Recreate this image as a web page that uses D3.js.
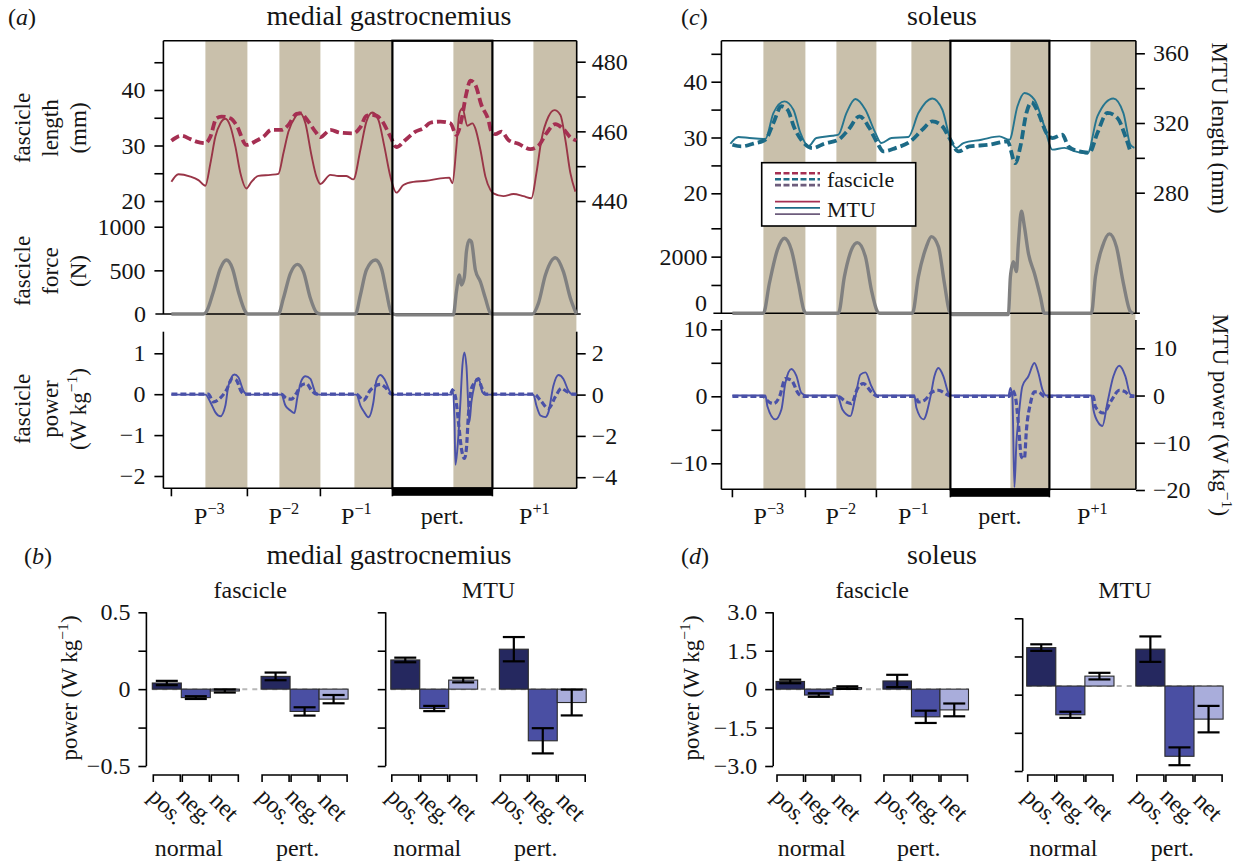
<!DOCTYPE html>
<html>
<head>
<meta charset="utf-8">
<script src="https://cdnjs.cloudflare.com/ajax/libs/d3/7.8.5/d3.min.js"></script>
<style>
body { margin: 0; background: #fff; }
text { font-family: "Liberation Serif", "Times New Roman", serif; fill: #151515; }
</style>
</head>
<body>
<script>
// ---- stride timing (s) ----
var mgStrides = [0.08, 0.84, 1.57, 2.29, 3.29, 4.13];
var mgStance = [0.42, 1.16, 1.91, 2.90, 3.70];
var solStrides = [0.11, 0.84, 1.55, 2.29, 3.28, 4.14];
var solStance = [0.42, 1.15, 1.90, 2.89, 3.69];
var strideLabels = [["P", "−3"], ["P", "−2"], ["P", "−1"], ["pert.", ""], ["P", "+1"]];

// ---- medial gastrocnemius traces [time s, value] ----
var mgFasLen = [[0.08,30.85],[0.18,31.75],[0.27,31.15],[0.33,30.7],[0.42,30.4],[0.47,31.6],[0.53,34.9],[0.58,35.2],[0.67,34.9],[0.73,33.7],[0.83,30.1],[0.93,30.85],[1.0,31.6],[1.08,32.8],[1.18,32.8],[1.25,33.7],[1.33,35.7],[1.37,35.8],[1.45,34.3],[1.52,32.5],[1.57,31.5],[1.67,32.8],[1.77,32.3],[1.9,32.2],[1.97,33.3],[2.03,35.35],[2.1,35.5],[2.18,34.6],[2.27,31.6],[2.33,29.7],[2.42,31.0],[2.52,32.5],[2.6,33.1],[2.67,34.1],[2.77,34.3],[2.87,34.0],[2.93,31.9],[2.98,34.6],[3.03,39.4],[3.07,41.7],[3.12,40.9],[3.18,37.3],[3.25,34.6],[3.28,32.5],[3.32,32.05],[3.38,32.5],[3.45,31.0],[3.55,30.3],[3.67,29.35],[3.75,29.95],[3.83,32.2],[3.92,33.85],[4.0,32.95],[4.08,31.3],[4.13,30.9]];
var mgMtuLen = [[0.08,445.5],[0.15,447.7],[0.27,447.0],[0.35,446.0],[0.42,444.4],[0.47,450.8],[0.52,458.5],[0.57,462.3],[0.62,463.6],[0.67,461.4],[0.72,455.6],[0.77,448.0],[0.83,443.6],[0.88,445.5],[0.95,447.2],[1.07,447.5],[1.15,447.8],[1.2,453.7],[1.25,459.9],[1.32,464.2],[1.36,465.4],[1.42,462.3],[1.48,453.2],[1.53,447.0],[1.57,444.9],[1.67,447.5],[1.75,447.2],[1.83,447.2],[1.9,446.2],[1.97,454.7],[2.03,462.8],[2.09,465.4],[2.15,463.3],[2.21,455.6],[2.27,447.0],[2.33,442.4],[2.4,444.6],[2.5,445.5],[2.63,445.8],[2.77,446.5],[2.86,446.7],[2.89,445.1],[2.93,455.6],[2.96,465.2],[2.99,466.6],[3.04,461.6],[3.09,462.3],[3.12,460.8],[3.17,454.7],[3.22,447.0],[3.27,443.2],[3.3,442.2],[3.4,441.4],[3.5,442.0],[3.6,441.4],[3.68,440.8],[3.73,448.0],[3.78,457.5],[3.85,464.2],[3.91,466.1],[3.97,464.7],[4.02,457.5],[4.07,448.0],[4.12,442.7]];
var mgForce = [[0.08,0],[0.40,0],[0.43,26],[0.50,255],[0.57,523],[0.63,618],[0.69,523],[0.75,255],[0.82,26],[0.84,0],[1.15,0],[1.20,180],[1.27,466],[1.34,569],[1.40,485],[1.47,180],[1.53,20],[1.57,0],[1.92,0],[1.97,218],[2.03,504],[2.12,618],[2.18,523],[2.23,255],[2.28,10],[2.30,0],[2.33,-10],[2.90,-10],[2.93,255],[2.96,447],[2.98,332],[3.01,427],[3.03,714],[3.06,848],[3.08,828],[3.12,504],[3.17,370],[3.22,180],[3.27,10],[3.29,0],[3.69,0],[3.75,122],[3.82,447],[3.92,645],[4.00,485],[4.07,180],[4.13,0]];
var mgFasPow = [[0.08,0],[0.45,0],[0.50,-0.19],[0.57,-0.09],[0.63,0.10],[0.69,0.38],[0.73,0.34],[0.78,0.06],[0.82,0],[1.18,0],[1.23,-0.10],[1.28,-0.12],[1.33,0.02],[1.38,0.22],[1.43,0.26],[1.48,0.10],[1.53,0],[1.93,0],[2.0,-0.15],[2.07,0.10],[2.17,0.24],[2.23,0.14],[2.28,0],[2.87,0],[2.89,0.10],[2.92,-0.06],[2.95,-0.67],[2.98,-1.33],[3.01,-1.57],[3.03,-1.33],[3.05,-0.51],[3.08,0.14],[3.12,0.30],[3.15,0.38],[3.18,0.18],[3.22,0],[3.71,0],[3.77,-0.15],[3.85,-0.35],[3.92,-0.06],[3.98,0.14],[4.03,0.07],[4.10,0],[4.13,0]];
var mgMtuPow = [[0.08,0],[0.42,0],[0.47,-0.37],[0.52,-0.86],[0.57,-1.05],[0.62,-0.53],[0.65,0.43],[0.71,0.97],[0.75,0.84],[0.80,0.19],[0.84,0],[1.18,0],[1.22,-0.53],[1.27,-0.77],[1.31,-0.89],[1.34,-0.13],[1.38,0.68],[1.42,0.89],[1.47,0.76],[1.52,0.11],[1.56,0],[1.93,0],[1.97,-0.53],[2.01,-0.86],[2.05,-1.10],[2.10,-0.37],[2.13,0.68],[2.17,0.95],[2.21,0.76],[2.27,0.11],[2.30,0],[2.88,0],[2.89,0.27],[2.91,-1.01],[2.92,-3.40],[2.94,-2.62],[2.97,-0.37],[2.99,1.40],[3.01,2.04],[3.03,1.40],[3.06,-1.34],[3.08,-0.37],[3.11,0.43],[3.13,0.76],[3.16,0.68],[3.19,0.11],[3.22,0],[3.70,0],[3.73,-0.53],[3.77,-1.01],[3.82,-1.09],[3.85,-0.86],[3.90,0.43],[3.95,0.95],[4.00,0.76],[4.05,0.19],[4.10,0],[4.13,0]];

// ---- soleus traces [time s, value] ----
var solFasLen = [[0.11,28.7],[0.20,28.4],[0.32,28.9],[0.44,29.6],[0.52,32.6],[0.60,35.6],[0.66,35.0],[0.73,31.7],[0.81,29.3],[0.91,28.1],[1.03,28.9],[1.17,29.6],[1.27,31.4],[1.38,33.8],[1.48,31.7],[1.56,29.0],[1.62,27.5],[1.74,28.1],[1.89,29.3],[2.01,31.4],[2.11,32.9],[2.21,32.0],[2.28,29.9],[2.37,27.5],[2.48,28.4],[2.68,28.7],[2.86,29.3],[2.94,25.4],[2.99,28.4],[3.05,34.4],[3.10,36.3],[3.17,34.4],[3.25,30.8],[3.31,29.9],[3.41,30.5],[3.47,28.4],[3.58,27.5],[3.68,27.3],[3.76,30.8],[3.86,34.4],[3.96,33.5],[4.04,30.2],[4.09,27.5]];
var solMtuLen = [[0.09,308.1],[0.17,312.0],[0.28,311.4],[0.44,310.8],[0.52,325.7],[0.63,332.4],[0.72,327.6],[0.79,314.3],[0.87,306.6],[0.95,311.4],[1.11,312.7],[1.17,313.3],[1.25,325.7],[1.34,333.8],[1.44,327.6],[1.54,314.3],[1.60,308.5],[1.70,311.4],[1.87,312.0],[1.97,325.7],[2.11,334.1],[2.21,327.6],[2.29,310.4],[2.35,305.7],[2.42,308.5],[2.60,310.4],[2.78,312.3],[2.88,310.4],[2.96,329.5],[3.03,337.2],[3.13,333.4],[3.23,318.0],[3.31,304.7],[3.43,305.7],[3.54,303.7],[3.66,302.4],[3.76,323.8],[3.92,334.1],[4.02,325.7],[4.09,307.5],[4.13,305.7]];
var solForce = [[0.11,0],[0.42,0],[0.48,1060],[0.56,2237],[0.63,2650],[0.70,2237],[0.77,1060],[0.83,60],[0.85,0],[1.17,0],[1.23,1293],[1.30,2237],[1.36,2495],[1.44,2000],[1.50,823],[1.56,60],[1.58,0],[1.91,0],[1.97,1293],[2.05,2353],[2.10,2707],[2.17,2353],[2.23,1060],[2.28,60],[2.29,0],[2.31,-40],[2.87,-40],[2.89,1293],[2.92,1823],[2.95,1470],[2.97,2473],[3.00,3600],[3.03,3060],[3.07,2120],[3.13,1413],[3.19,587],[3.23,0],[3.70,0],[3.74,1293],[3.81,2353],[3.88,2802],[3.95,2353],[4.02,1060],[4.09,60],[4.12,0]];
var solFasPow = [[0.11,0],[0.42,0],[0.44,-0.35],[0.52,-1.09],[0.58,-0.10],[0.64,2.64],[0.70,2.39],[0.77,0.40],[0.82,0],[1.16,0],[1.25,-0.85],[1.30,-1.09],[1.36,1.14],[1.42,1.89],[1.50,0.65],[1.56,0],[1.94,0],[1.97,-0.85],[2.03,-0.60],[2.11,0.65],[2.17,0.90],[2.25,0.30],[2.30,0],[2.88,0],[2.91,0.90],[2.94,-0.10],[2.97,-4.08],[3.00,-9.05],[3.03,-9.30],[3.05,-5.07],[3.09,-1.09],[3.13,0.65],[3.17,0.65],[3.23,0],[3.72,0],[3.74,-1.59],[3.82,-2.49],[3.90,-0.60],[3.98,0.90],[4.04,0.65],[4.09,0],[4.13,0]];
var solMtuPow = [[0.11,0],[0.44,0],[0.46,-2.25],[0.54,-5.05],[0.60,-2.95],[0.64,2.67],[0.70,5.61],[0.75,4.14],[0.80,0.56],[0.85,0],[1.16,0],[1.21,-2.95],[1.29,-4.35],[1.34,-0.28],[1.39,4.42],[1.44,4.91],[1.50,1.96],[1.56,0],[1.93,0],[1.95,-2.60],[2.02,-5.05],[2.09,-0.28],[2.13,4.07],[2.17,5.82],[2.22,4.07],[2.27,0.56],[2.30,0],[2.87,0],[2.89,1.61],[2.91,-0.28],[2.93,-19.4],[2.95,-9.97],[2.97,-5.05],[3.01,1.96],[3.07,4.07],[3.13,6.88],[3.17,4.77],[3.21,1.26],[3.25,0],[3.70,0],[3.72,-2.95],[3.77,-5.75],[3.81,-6.46],[3.86,-1.54],[3.92,4.07],[3.98,6.32],[4.04,4.07],[4.09,0.21],[4.13,0]];

// ---- mean power per stride (W/kg) ----
var conditions = ["normal", "pert."];
var barKinds = ["pos.", "neg.", "net"];
var mgFasMean = [0.04, -0.055, -0.012, 0.083, -0.145, -0.065];
var mgFasErr = [0.014, 0.009, 0.010, 0.025, 0.027, 0.027];
var mgMtuMean = [0.19, -0.126, 0.059, 0.26, -0.336, -0.087];
var mgMtuErr = [0.015, 0.017, 0.015, 0.079, 0.082, 0.084];
var solFasMean = [0.30, -0.23, 0.06, 0.32, -1.08, -0.81];
var solFasErr = [0.07, 0.07, 0.05, 0.24, 0.24, 0.25];
var solMtuMean = [1.51, -1.13, 0.39, 1.45, -2.76, -1.30];
var solMtuErr = [0.13, 0.12, 0.13, 0.50, 0.35, 0.52];

var width = 1236, height = 867;
var bandColor = "#c9c0ab";
var powColor = "#4a51a8";
var barColor = {"pos.": "#25285f", "neg.": "#4a4fa3", "net": "#a9addb"};

var svg = d3.select("body").append("svg")
  .attr("width", width)
  .attr("height", height);

function fmtInt(d) { return d3.format("d")(d); }

function yAxis(g, scale, side, xPos, ticks, labeled, size, pad, fmt) {
  var ax = (side == "left" ? d3.axisLeft(scale) : d3.axisRight(scale))
    .tickValues(ticks).tickSize(size).tickPadding(pad).tickSizeOuter(0)
    .tickFormat(function(d) { return labeled.indexOf(d) >= 0 ? fmt(d) : ""; });
  var a = g.append("g").attr("transform", "translate(" + xPos + ",0)").call(ax);
  a.select(".domain").remove();
  a.attr("font-family", null).attr("font-size", 24);
  a.selectAll(".tick line").attr("stroke", "#000").attr("stroke-width", 1.6);
  a.selectAll(".tick text").attr("fill", "#151515");
}

function vline(g, x, y1, y2, w) {
  g.append("line").attr("x1", x).attr("x2", x).attr("y1", y1).attr("y2", y2)
    .attr("stroke", "#000").attr("stroke-width", w || 1.6);
}
function hline(g, y, x1, x2, w) {
  g.append("line").attr("x1", x1).attr("x2", x2).attr("y1", y).attr("y2", y)
    .attr("stroke", "#000").attr("stroke-width", w || 1.6);
}

// text with optional superscript parts: "^" marks a superscript piece
function label(x, y, angle, parts, size, anchor) {
  var t = svg.append("text")
    .attr("transform", "translate(" + x + "," + y + ") rotate(" + angle + ")")
    .attr("text-anchor", anchor || "middle")
    .attr("font-size", size);
  var up = false;
  parts.forEach(function(p) {
    if (p.charAt(0) == "^") {
      t.append("tspan").attr("font-size", size * 0.68).attr("dy", -size * 0.4).text(p.slice(1));
      up = true;
    } else {
      t.append("tspan").attr("dy", up ? size * 0.4 : 0).text(p);
      up = false;
    }
  });
  return t;
}

function trace(g, data, x, y, color, w, dash) {
  var line = d3.line().x(function(d) { return x(d[0]); }).y(function(d) { return y(d[1]); })
    .curve(d3.curveMonotoneX);
  g.append("path").datum(data).attr("d", line)
    .attr("fill", "none").attr("stroke", color).attr("stroke-width", w)
    .attr("stroke-dasharray", dash).attr("stroke-linejoin", "round");
}

function drawTrace(p) {
  var g = svg.append("g");
  var x = p.x, x0 = x.range()[0], x1 = x.range()[1];

  g.selectAll(".band").data(p.stance).enter().append("rect")
    .attr("x", function(d) { return x(d); })
    .attr("width", function(d, i) { return x(p.strides[i + 1]) - x(d); })
    .attr("y", p.top).attr("height", p.bottom - p.top)
    .attr("fill", bandColor);

  // frame
  hline(g, p.top, x0, x1);
  hline(g, p.bottom, x0, x1);
  vline(g, x0, p.top, p.forceY(0));
  vline(g, x0, p.powTop, p.bottom);
  vline(g, x1, p.top, p.forceY(0));
  vline(g, x1, p.powTop, p.bottom);
  hline(g, p.forceY(0), x0 - 8, x1 + 4);

  trace(g, p.force, x, p.forceY, "#808080", 3.4, null);
  trace(g, p.mtuLen, x, p.lenR, p.mtuColor, 1.9, null);
  trace(g, p.fasLen, x, p.lenL, p.fasColor, 3.8, "9,4");
  trace(g, p.mtuPow, x, p.powR, powColor, 1.9, null);
  trace(g, p.fasPow, x, p.powL, powColor, 3.2, "6,3");

  // perturbed stride
  var s3 = x(p.strides[3]), s4 = x(p.strides[4]);
  g.append("rect").attr("x", s3).attr("y", p.top).attr("width", s4 - s3).attr("height", p.bottom - p.top)
    .attr("fill", "none").attr("stroke", "#000").attr("stroke-width", 2.2);
  g.selectAll(".stk").data(p.strides.slice(0, 5)).enter().append("line")
    .attr("x1", function(d) { return x(d); }).attr("x2", function(d) { return x(d); })
    .attr("y1", p.bottom).attr("y2", p.bottom + 8)
    .attr("stroke", "#000").attr("stroke-width", 1.6);
  g.append("rect").attr("x", s3).attr("y", p.bottom).attr("width", s4 - s3).attr("height", 7.5).attr("fill", "#000");

  strideLabels.forEach(function(l, i) {
    var cx = x((p.strides[i] + p.strides[i + 1]) / 2);
    label(cx, 524, 0, l[1] ? [l[0], "^" + l[1]] : [l[0]], 24);
  });

  yAxis(g, p.lenL, "left", x0, p.lenLTicks, p.lenLLab, p.tick, p.pad, fmtInt);
  yAxis(g, p.lenR, "right", x1, p.lenRTicks, p.lenRLab, 9, p.rpad, fmtInt);
  yAxis(g, p.forceY, "left", x0, p.forceTicks, p.forceLab, p.tick, p.pad, fmtInt);
  yAxis(g, p.powL, "left", x0, p.powLTicks, p.powLLab, p.tick, p.pad, fmtInt);
  yAxis(g, p.powR, "right", x1, p.powRTicks, p.powRTicks, 9, p.rpad, fmtInt);
}

// ---- (a) medial gastrocnemius traces ----
drawTrace({
  x: d3.scaleLinear().domain([0, 4.133]).range([163.4, 576.7]),
  strides: mgStrides, stance: mgStance, top: 40.7, bottom: 488.3, powTop: 331.7,
  lenL: d3.scaleLinear().domain([20, 40]).range([201, 90]),
  lenR: d3.scaleLinear().domain([440, 480]).range([201, 61.7]),
  forceY: d3.scaleLinear().domain([0, 1000]).range([314, 226.7]),
  powL: d3.scaleLinear().domain([-2, 1]).range([476, 353.3]),
  powR: d3.scaleLinear().domain([-4, 2]).range([477.2, 353.3]),
  fasLen: mgFasLen, mtuLen: mgMtuLen, force: mgForce, fasPow: mgFasPow, mtuPow: mgMtuPow,
  fasColor: "#a52f52", mtuColor: "#993547",
  lenLTicks: [20, 25, 30, 35, 40, 45], lenLLab: [20, 30, 40],
  lenRTicks: [440, 450, 460, 470, 480], lenRLab: [440, 460, 480],
  forceTicks: [500, 1000], forceLab: [500, 1000],
  powLTicks: [-2, -1, 0, 1], powLLab: [-2, -1, 0, 1],
  powRTicks: [-4, -2, 0, 2],
  tick: 9, pad: 9, rpad: 6
});
svg.append("text").attr("x", 146).attr("y", 322).attr("text-anchor", "end").attr("font-size", 24).text("0");

// ---- (c) soleus traces ----
drawTrace({
  x: d3.scaleLinear().domain([0, 4.145]).range([721.4, 1135.9]),
  strides: solStrides, stance: solStance, top: 40.7, bottom: 489.3, powTop: 320,
  lenL: d3.scaleLinear().domain([20, 40]).range([193.3, 81.7]),
  lenR: d3.scaleLinear().domain([280, 360]).range([192.7, 53.3]),
  forceY: d3.scaleLinear().domain([0, 3000]).range([313.3, 228.3]),
  powL: d3.scaleLinear().domain([-10, 10]).range([463.3, 329.3]),
  powR: d3.scaleLinear().domain([-20, 10]).range([490, 348.3]),
  fasLen: solFasLen, mtuLen: solMtuLen, force: solForce, fasPow: solFasPow, mtuPow: solMtuPow,
  fasColor: "#1c6a86", mtuColor: "#25758f",
  lenLTicks: [20, 25, 30, 35, 40, 45], lenLLab: [20, 30, 40],
  lenRTicks: [280, 300, 320, 340, 360], lenRLab: [280, 320, 360],
  forceTicks: [1000, 2000, 3000], forceLab: [2000],
  powLTicks: [-10, -5, 0, 5, 10], powLLab: [-10, 0, 10],
  powRTicks: [-20, -10, 0, 10],
  tick: 10, pad: 4, rpad: 8
});
svg.append("text").attr("x", 707).attr("y", 311).attr("text-anchor", "end").attr("font-size", 24).text("0");

// legend
var leg = svg.append("g");
leg.append("rect").attr("x", 761.7).attr("y", 162.7).attr("width", 154).attr("height", 63.3)
  .attr("fill", "#fff").attr("stroke", "#000").attr("stroke-width", 1.6);
var legColors = ["#a52f52", "#1c6a86", "#6d5c7c"];
legColors.forEach(function(c, i) {
  leg.append("line").attr("x1", 775).attr("x2", 820).attr("y1", 173.3 + i * 5.9).attr("y2", 173.3 + i * 5.9)
    .attr("stroke", c).attr("stroke-width", 2.6).attr("stroke-dasharray", "6,2.5");
  leg.append("line").attr("x1", 775).attr("x2", 820).attr("y1", 201.7 + i * 6.2).attr("y2", 201.7 + i * 6.2)
    .attr("stroke", c).attr("stroke-width", 1.8);
});
leg.append("text").attr("x", 827).attr("y", 187).attr("font-size", 22).text("fascicle");
leg.append("text").attr("x", 827).attr("y", 217).attr("font-size", 22).text("MTU");

// titles and axis titles (top)
label(8, 25, 0, ["(", "a", ")"], 24, "start");
label(681, 25, 0, ["(", "c", ")"], 24, "start");
label(389, 25, 0, ["medial gastrocnemius"], 28);
label(942, 25, 0, ["soleus"], 28);
[["fascicle"], ["length"], ["(mm)"]].forEach(function(l, i) { label(30 + i * 28, 128, -90, l, 23); });
[["fascicle"], ["force"], ["(N)"]].forEach(function(l, i) { label(30 + i * 28, 271, -90, l, 23); });
[["fascicle"], ["power"], ["(W kg", "^−1", ")"]].forEach(function(l, i) { label(30 + i * 28, 409, -90, l, 23); });
label(1212, 128, 90, ["MTU length (mm)"], 23);
label(1213, 415, 90, ["MTU power (W kg", "^−1", ")"], 23);

// ---- bar panels ----
function drawBars(p) {
  var g = svg.append("g");
  var grp = d3.scaleBand().domain(conditions).range(p.range).paddingInner(0.2);
  var inner = d3.scaleBand().domain(barKinds).range([0, grp.bandwidth()]);
  var rows = [];
  conditions.forEach(function(c, ci) {
    barKinds.forEach(function(k, ki) {
      var i = ci * 3 + ki;
      rows.push({c: c, k: k, m: p.mean[i], e: p.err[i], x: grp(c) + inner(k), w: inner.bandwidth()});
    });
  });
  var y = p.yBar;

  g.append("line").attr("x1", p.range[0]).attr("x2", p.range[1]).attr("y1", y(0)).attr("y2", y(0))
    .attr("stroke", "#b8b8b8").attr("stroke-width", 2).attr("stroke-dasharray", "5,5");

  g.selectAll(".bar").data(rows).enter().append("rect")
    .attr("x", function(d) { return d.x; })
    .attr("width", function(d) { return d.w; })
    .attr("y", function(d) { return y(Math.max(0, d.m)); })
    .attr("height", function(d) { return Math.abs(y(d.m) - y(0)); })
    .attr("fill", function(d) { return barColor[d.k]; })
    .attr("stroke", "#2b2b2b").attr("stroke-width", 1.1);

  var eb = g.selectAll(".err").data(rows).enter().append("g");
  eb.append("line")
    .attr("x1", function(d) { return d.x + d.w / 2; }).attr("x2", function(d) { return d.x + d.w / 2; })
    .attr("y1", function(d) { return y(d.m - d.e); }).attr("y2", function(d) { return y(d.m + d.e); });
  eb.append("line")
    .attr("x1", function(d) { return d.x + d.w / 2 - 11; }).attr("x2", function(d) { return d.x + d.w / 2 + 11; })
    .attr("y1", function(d) { return y(d.m - d.e); }).attr("y2", function(d) { return y(d.m - d.e); });
  eb.append("line")
    .attr("x1", function(d) { return d.x + d.w / 2 - 11; }).attr("x2", function(d) { return d.x + d.w / 2 + 11; })
    .attr("y1", function(d) { return y(d.m + d.e); }).attr("y2", function(d) { return y(d.m + d.e); });
  eb.selectAll("line").attr("stroke", "#000").attr("stroke-width", 2.2);

  g.selectAll(".brk").data(rows).enter().append("path")
    .attr("d", function(d) { return "M" + (d.x + 1) + ",782V775H" + (d.x + d.w - 1) + "V782"; })
    .attr("fill", "none").attr("stroke", "#000").attr("stroke-width", 1.6);

  rows.forEach(function(d) {
    label(d.x + d.w / 2 - 6, 812, 45, [d.k], 24);
  });
  conditions.forEach(function(c) {
    label(grp(c) + grp.bandwidth() / 2 - 7, 856, 0, [c], 24);
  });

  vline(g, p.spine, p.yAxis.range()[1], p.yAxis.range()[0]);
  yAxis(g, p.yAxis, "left", p.spine, p.ticks, p.labeled, 8, 8, p.fmt);
  label((p.range[0] + p.range[1]) / 2, 598, 0, [p.title], 24);
}

var yMg = d3.scaleLinear().domain([-0.5, 0.5]).range([766, 612.3]);
var fmtMg = function(d) { return d == 0 ? "0" : d3.format(".1f")(d); };
drawBars({range: [152.3, 348.1], yBar: yMg, yAxis: yMg, mean: mgFasMean, err: mgFasErr, spine: 146.4,
  ticks: [-0.5, -0.25, 0, 0.25, 0.5], labeled: [-0.5, 0, 0.5], fmt: fmtMg, title: "fascicle"});
drawBars({range: [390.8, 586.2], yBar: yMg, yAxis: yMg, mean: mgMtuMean, err: mgMtuErr, spine: 385.7,
  ticks: [-0.5, -0.25, 0, 0.25, 0.5], labeled: [], fmt: fmtMg, title: "MTU"});

var ySol = d3.scaleLinear().domain([-3, 3]).range([766, 612.3]);
var fmtSol = function(d) { return d == 0 ? "0" : d3.format(".1f")(d); };
drawBars({range: [776, 968.5], yBar: ySol, yAxis: ySol, mean: solFasMean, err: solFasErr, spine: 773.2,
  ticks: [-3, -1.5, 0, 1.5, 3], labeled: [-3, -1.5, 0, 1.5, 3], fmt: fmtSol, title: "fascicle"});
drawBars({range: [1026.7, 1223.1],
  yBar: d3.scaleLinear().domain([-3, 3]).range([762.4, 609.7]),
  yAxis: d3.scaleLinear().domain([-3, 3]).range([771, 618.3]),
  mean: solMtuMean, err: solMtuErr, spine: 1022.7,
  ticks: [-3, -1.5, 0, 1.5, 3], labeled: [], fmt: fmtSol, title: "MTU"});

label(24, 564, 0, ["(", "b", ")"], 24, "start");
label(681, 564, 0, ["(", "d", ")"], 24, "start");
label(389, 564, 0, ["medial gastrocnemius"], 28);
label(942, 564, 0, ["soleus"], 28);
label(77, 688, -90, ["power (W kg", "^−1", ")"], 23);
label(699, 688, -90, ["power (W kg", "^−1", ")"], 23);

// italic panel letters
svg.selectAll("text").filter(function() { return /^\([a-d]\)$/.test(this.textContent); })
  .each(function() { d3.select(this).select("tspan:nth-child(2)").attr("font-style", "italic"); });
</script>
</body>
</html>
